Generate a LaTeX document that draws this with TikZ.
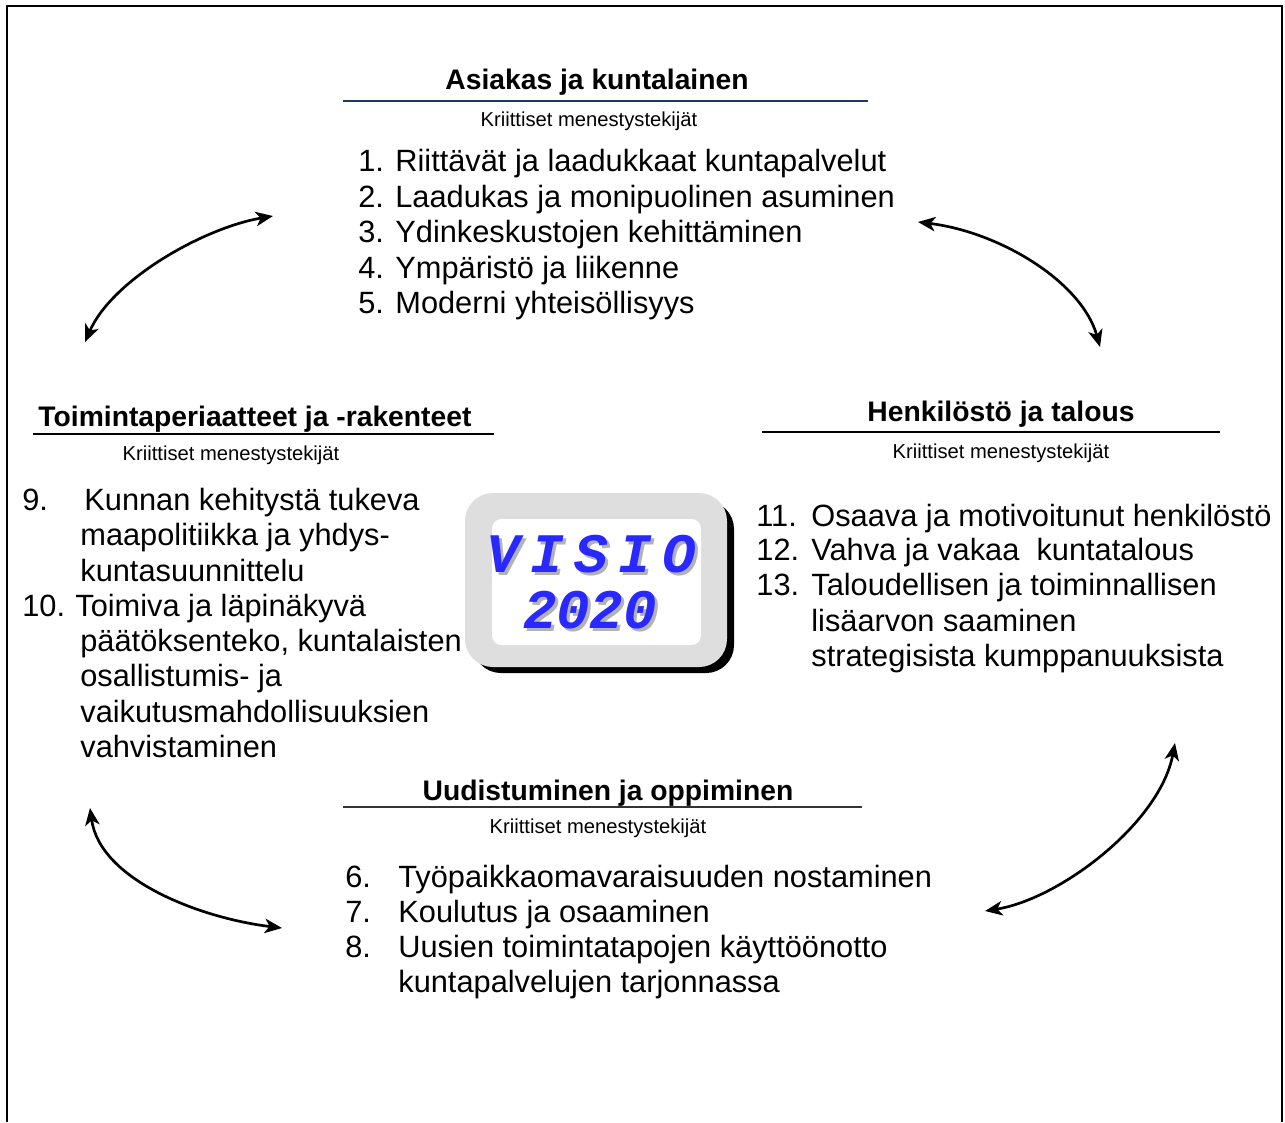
\documentclass[tikz,border=0pt]{standalone}
\usepackage{fontspec}
\setmainfont{Liberation Sans}
\newfontfamily\visiofont{Liberation Mono}
\usetikzlibrary{arrows.meta}

\definecolor{visioblue}{RGB}{40,40,255}
\definecolor{rulenavy}{RGB}{31,56,100}
\definecolor{framegray}{RGB}{222,222,222}

\tikzset{
  head/.style={font=\fontsize{14.7}{16}\selectfont\bfseries, anchor=base, inner sep=0pt},
  sub/.style={font=\fontsize{10.5}{12}\selectfont, anchor=base, inner sep=0pt},
  item/.style={font=\fontsize{16}{18.4}\selectfont, anchor=base west, inner sep=0pt},
  visio/.style={font=\visiofont\bfseries\itshape\fontsize{29}{30}\selectfont, anchor=base, inner sep=0pt, text height=17pt, text depth=0pt},
  link/.style={line width=1.4pt, {Stealth[length=9pt,width=7.5pt,inset=2.5pt]}-{Stealth[length=9pt,width=7.5pt,inset=2.5pt]}},
}

\begin{document}
\begin{tikzpicture}[x=0.52pt, y=-0.52pt]
\useasboundingbox (0,0) rectangle (1285,1122);

% frame, open at the bottom
\draw[line width=1.5pt] (7,1122) -- (7,6) -- (1282,6) -- (1282,1122);

% centre box
\fill[black, rounded corners=14.5pt] (473,501) rectangle (734,673);
\fill[framegray, rounded corners=14.5pt] (465,493) rectangle (727,667);
\fill[white, rounded corners=5pt] (492,519) rectangle (701,645);
\node[visio, text=black!30] (visio0s) at (594,575) {\spaceskip=5.5pt V I S I O};
\node[visio, text=visioblue] (visio0) at (591,572) {\spaceskip=5.5pt V I S I O};
\node[visio, text=black!30] (visio1s) at (593,631) {2020};
\node[visio, text=visioblue] (visio1) at (590,628) {2020};

% top block
\node[head] (head0) at (597,89) {Asiakas ja kuntalainen};
\draw[line width=1.5pt, rulenavy] (343,101) -- (868,101);
\node[sub] (sub0) at (589,126) {Kriittiset menestystekijät};
\node[item] (num1) at (358,171) {1.};
\node[item] (txt1) at (395,171) {Riittävät ja laadukkaat kuntapalvelut};
\node[item] (num2) at (358,207) {2.};
\node[item] (txt2) at (395,207) {Laadukas ja monipuolinen asuminen};
\node[item] (num3) at (358,242) {3.};
\node[item] (txt3) at (395,242) {Ydinkeskustojen kehittäminen};
\node[item] (num4) at (358,278) {4.};
\node[item] (txt4) at (395,278) {Ympäristö ja liikenne};
\node[item] (num5) at (358,313) {5.};
\node[item] (txt5) at (395,313) {Moderni yhteisöllisyys};

% left block
\node[head] (head1) at (255,426) {Toimintaperiaatteet ja -rakenteet};
\draw[line width=0.8pt] (33,434) -- (494,434);
\node[sub] (sub1) at (231,460) {Kriittiset menestystekijät};
\node[item] (num9) at (22,510) {9.};
\node[item] (txt9a) at (84,510) {Kunnan kehitystä tukeva};
\node[item] (txt9b) at (80,545) {maapolitiikka ja yhdys-};
\node[item] (txt9c) at (80,581) {kuntasuunnittelu};
\node[item] (num10) at (22,616) {10.};
\node[item] (txt10a) at (75,616) {Toimiva ja läpinäkyvä};
\node[item] (txt10b) at (80,651) {päätöksenteko, kuntalaisten};
\node[item] (txt10c) at (80,686) {osallistumis- ja};
\node[item] (txt10d) at (80,722) {vaikutusmahdollisuuksien};
\node[item] (txt10e) at (80,757) {vahvistaminen};

% right block
\node[head] (head2) at (1001,421) {Henkilöstö ja talous};
\draw[line width=0.8pt] (762,432) -- (1220,432);
\node[sub] (sub2) at (1001,458) {Kriittiset menestystekijät};
\node[item] (num11) at (756,526) {11.};
\node[item] (txt11) at (811,526) {Osaava ja motivoitunut henkilöstö};
\node[item] (num12) at (756,560) {12.};
\node[item] (txt12) at (811,560) {Vahva ja vakaa~ kuntatalous};
\node[item] (num13) at (756,595) {13.};
\node[item] (txt13a) at (811,595) {Taloudellisen ja toiminnallisen};
\node[item] (txt13b) at (811,631) {lisäarvon saaminen};
\node[item] (txt13c) at (811,666) {strategisista kumppanuuksista};

% bottom block
\node[head] (head3) at (608,800) {Uudistuminen ja oppiminen};
\draw[line width=0.8pt, black!80] (343,807) -- (862,807);
\node[sub] (sub3) at (598,833) {Kriittiset menestystekijät};
\node[item] (num6) at (345,887) {6.};
\node[item] (txt6) at (398,887) {Työpaikkaomavaraisuuden nostaminen};
\node[item] (num7) at (345,922) {7.};
\node[item] (txt7) at (398,922) {Koulutus ja osaaminen};
\node[item] (num8) at (345,957) {8.};
\node[item] (txt8a) at (398,957) {Uusien toimintatapojen käyttöönotto};
\node[item] (txt8b) at (398,992) {kuntapalvelujen tarjonnassa};

% arrows between the blocks
\coordinate (end0) at (85,342);
\coordinate (end1) at (273,216);
\coordinate (end2) at (918,222);
\coordinate (end3) at (1100,347);
\coordinate (end4) at (985,911);
\coordinate (end5) at (1175,743);
\coordinate (end6) at (90,808);
\coordinate (end7) at (282,928);

\draw[link] (end0) .. controls +(27,-62) and +(-70,12) .. (end1);
\draw[link] (end2) .. controls +(82,10) and +(-18,-65) .. (end3);
\draw[link] (end4) .. controls +(75,-12) and +(-15,80) .. (end5);
\draw[link] (end6) .. controls +(10,72) and +(-82,-10) .. (end7);

\end{tikzpicture}
\end{document}
